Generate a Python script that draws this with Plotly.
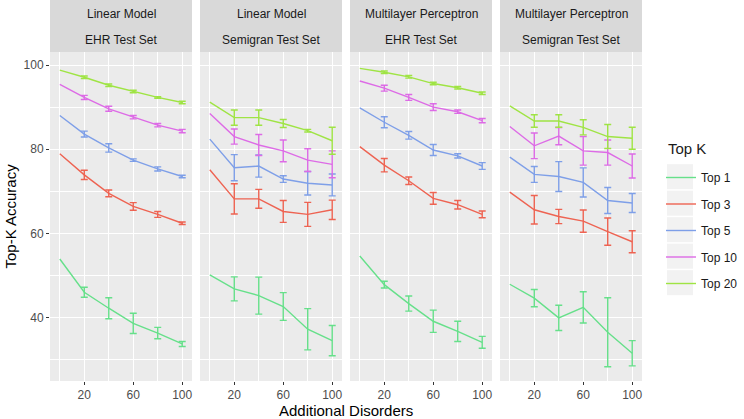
import plotly.graph_objects as go

# ---------------- data ----------------
additional_disorders = [0, 20, 40, 60, 80, 100]
err_disorders = [20, 40, 60, 80, 100]
top_k_labels = ["Top 1", "Top 3", "Top 5", "Top 10", "Top 20"]
model_labels = ["Linear Model", "Linear Model", "Multilayer Perceptron", "Multilayer Perceptron"]
testset_labels = ["EHR Test Set", "Semigran Test Set", "EHR Test Set", "Semigran Test Set"]
x_tick_vals = [20, 60, 100]
y_tick_vals = [40, 60, 80, 100]

# Linear Model, EHR Test Set
lin_ehr_top1 = [53.9, 46.0, 42.2, 38.6, 36.3, 33.7]
lin_ehr_top3 = [78.9, 73.9, 69.5, 66.4, 64.5, 62.4]
lin_ehr_top5 = [88.0, 83.6, 80.3, 77.4, 75.3, 73.5]
lin_ehr_top10 = [95.4, 92.3, 89.6, 87.6, 85.7, 84.3]
lin_ehr_top20 = [98.8, 97.1, 95.2, 93.7, 92.3, 91.1]
lin_ehr_top1_err = [1.2, 2.5, 2.4, 1.35, 0.6]
lin_ehr_top3_err = [1.1, 0.8, 0.9, 0.7, 0.3]
lin_ehr_top5_err = [0.7, 1.0, 0.3, 0.5, 0.3]
lin_ehr_top10_err = [0.5, 0.6, 0.4, 0.4, 0.4]
lin_ehr_top20_err = [0.3, 0.3, 0.3, 0.2, 0.3]

# Linear Model, Semigran Test Set
lin_sem_top1 = [50.1, 46.8, 45.2, 42.6, 37.2, 34.5]
lin_sem_top3 = [75.1, 68.2, 68.2, 65.2, 64.5, 65.6]
lin_sem_top5 = [82.4, 75.6, 76.0, 72.9, 71.9, 71.5]
lin_sem_top10 = [88.5, 83.0, 81.0, 79.6, 77.4, 76.4]
lin_sem_top20 = [91.2, 87.5, 87.5, 86.1, 84.4, 82.0]
lin_sem_top1_err = [2.85, 4.4, 3.3, 4.9, 3.6]
lin_sem_top3_err = [3.6, 2.25, 2.6, 2.85, 2.3]
lin_sem_top5_err = [3.1, 2.65, 0.8, 2.8, 2.6]
lin_sem_top10_err = [1.8, 2.5, 2.6, 2.7, 3.2]
lin_sem_top20_err = [1.8, 1.8, 0.95, 0.3, 3.2]

# Multilayer Perceptron, EHR Test Set
mlp_ehr_top1 = [54.6, 47.8, 43.3, 39.1, 36.7, 34.1]
mlp_ehr_top3 = [80.6, 76.2, 72.5, 68.3, 66.8, 64.5]
mlp_ehr_top5 = [89.8, 86.4, 83.3, 79.8, 78.4, 76.0]
mlp_ehr_top10 = [96.2, 94.5, 92.3, 90.0, 88.9, 86.8]
mlp_ehr_top20 = [99.2, 98.3, 97.2, 95.6, 94.6, 93.3]
mlp_ehr_top1_err = [0.8, 1.8, 2.65, 2.4, 1.4]
mlp_ehr_top3_err = [1.6, 0.9, 1.4, 1.0, 0.8]
mlp_ehr_top5_err = [1.3, 0.9, 1.3, 0.5, 0.8]
mlp_ehr_top10_err = [0.7, 0.7, 0.8, 0.4, 0.5]
mlp_ehr_top20_err = [0.3, 0.3, 0.3, 0.3, 0.3]

# Multilayer Perceptron, Semigran Test Set
mlp_sem_top1 = [47.9, 44.6, 39.9, 42.4, 36.5, 31.5]
mlp_sem_top3 = [69.8, 65.6, 64.0, 62.9, 60.4, 58.0]
mlp_sem_top5 = [78.1, 74.0, 73.5, 72.1, 67.8, 67.2]
mlp_sem_top10 = [85.4, 80.8, 83.1, 79.6, 79.2, 76.0]
mlp_sem_top20 = [90.3, 86.7, 86.7, 85.2, 83.0, 82.6]
mlp_sem_top1_err = [2.05, 3.0, 3.7, 8.2, 3.0]
mlp_sem_top3_err = [3.4, 1.7, 2.65, 3.25, 2.6]
mlp_sem_top5_err = [1.9, 3.55, 3.45, 3.1, 2.25]
mlp_sem_top10_err = [3.05, 2.05, 3.4, 3.0, 2.85]
mlp_sem_top20_err = [1.5, 1.5, 1.8, 2.85, 2.6]

panel_values = [
    [lin_ehr_top1, lin_ehr_top3, lin_ehr_top5, lin_ehr_top10, lin_ehr_top20],
    [lin_sem_top1, lin_sem_top3, lin_sem_top5, lin_sem_top10, lin_sem_top20],
    [mlp_ehr_top1, mlp_ehr_top3, mlp_ehr_top5, mlp_ehr_top10, mlp_ehr_top20],
    [mlp_sem_top1, mlp_sem_top3, mlp_sem_top5, mlp_sem_top10, mlp_sem_top20],
]
panel_errors = [
    [lin_ehr_top1_err, lin_ehr_top3_err, lin_ehr_top5_err, lin_ehr_top10_err, lin_ehr_top20_err],
    [lin_sem_top1_err, lin_sem_top3_err, lin_sem_top5_err, lin_sem_top10_err, lin_sem_top20_err],
    [mlp_ehr_top1_err, mlp_ehr_top3_err, mlp_ehr_top5_err, mlp_ehr_top10_err, mlp_ehr_top20_err],
    [mlp_sem_top1_err, mlp_sem_top3_err, mlp_sem_top5_err, mlp_sem_top10_err, mlp_sem_top20_err],
]

# ---------------- style ----------------
colors = ["#66E08A", "#EE6352", "#7E9FE8", "#DD6BE6", "#9FE444"]
FONT = "Liberation Sans, Arial, sans-serif"
W, H = 744, 419
ML, MR, MT, MB = 50, 102, 0, 38
PW = W - ML - MR          # 592
PH = H - MT - MB          # 381
STRIP_H = 52
panel_w = 142
panel_gap = (PW - 4 * panel_w) / 3


def px_x(px):
    return (px - ML) / PW


def px_y(py):
    return (PH - (py - MT)) / PH


fig = go.Figure()

for p in range(4):
    xa = "x" if p == 0 else f"x{p + 1}"
    ya = "y" if p == 0 else f"y{p + 1}"
    for k in range(5):
        fig.add_trace(go.Scatter(
            x=additional_disorders, y=panel_values[p][k], mode="lines",
            line=dict(color=colors[k], width=1.4),
            name=top_k_labels[k], legendgroup=top_k_labels[k],
            showlegend=(p == 0), xaxis=xa, yaxis=ya, hoverinfo="skip"))
        fig.add_trace(go.Scatter(
            x=err_disorders, y=panel_values[p][k][1:], mode="markers",
            marker=dict(color=colors[k], size=1, opacity=0),
            error_y=dict(type="data", array=panel_errors[p][k], color=colors[k],
                         thickness=1.4, width=3.5),
            showlegend=False, legendgroup=top_k_labels[k],
            xaxis=xa, yaxis=ya, hoverinfo="skip"))

layout = dict(
    width=W, height=H,
    margin=dict(l=ML, r=MR, t=MT, b=MB),
    paper_bgcolor="white", plot_bgcolor="#EBEBEB",
    font=dict(family=FONT, size=12, color="#4D4D4D"),
    legend=dict(
        x=px_x(661), y=px_y(163), xanchor="left", yanchor="top",
        bgcolor="rgba(0,0,0,0)", tracegroupgap=7.5,
        font=dict(family=FONT, size=12, color="#1A1A1A"),
    ),
    shapes=[], annotations=[],
)

ydom_top = (PH - STRIP_H) / PH
for p in range(4):
    x0 = (p * (panel_w + panel_gap)) / PW
    x1 = (p * (panel_w + panel_gap) + panel_w) / PW
    sfx = "" if p == 0 else str(p + 1)
    layout["xaxis" + sfx] = dict(
        domain=[x0, x1], range=[-8, 108], anchor="y" + sfx,
        tickvals=x_tick_vals, ticks="outside", ticklen=3, tickcolor="#333333",
        showgrid=True, gridcolor="white", gridwidth=1.1, zeroline=False, showline=False,
        tickfont=dict(family=FONT, size=12, color="#4D4D4D"),
        minor=dict(tickvals=[0, 40, 80], showgrid=True, gridcolor="white", gridwidth=0.5, ticks=""),
    )
    layout["yaxis" + sfx] = dict(
        domain=[0, ydom_top], range=[24.9, 103.1], anchor="x" + sfx,
        tickvals=y_tick_vals, ticks="outside" if p == 0 else "", ticklen=3, tickcolor="#333333",
        showticklabels=(p == 0),
        showgrid=True, gridcolor="white", gridwidth=1.1, zeroline=False, showline=False,
        tickfont=dict(family=FONT, size=12, color="#4D4D4D"),
        minor=dict(tickvals=[30, 50, 70, 90], showgrid=True, gridcolor="white", gridwidth=0.5, ticks=""),
    )
    layout["shapes"].append(dict(
        type="rect", xref="paper", yref="paper", x0=x0, x1=x1, y0=ydom_top, y1=1.0,
        fillcolor="#D9D9D9", line=dict(width=0), layer="below"))
    xc = (x0 + x1) / 2
    layout["annotations"].append(dict(
        text=model_labels[p], xref="paper", yref="paper", x=xc, y=px_y(14),
        showarrow=False, xanchor="center", yanchor="middle",
        font=dict(family=FONT, size=12, color="#1A1A1A")))
    layout["annotations"].append(dict(
        text=testset_labels[p], xref="paper", yref="paper", x=xc, y=px_y(40),
        showarrow=False, xanchor="center", yanchor="middle",
        font=dict(family=FONT, size=12, color="#1A1A1A")))

# legend key backgrounds
for k in range(5):
    cy = 176.7 + k * 26.5
    layout["shapes"].append(dict(
        type="rect", xref="paper", yref="paper", x0=px_x(667), x1=px_x(693),
        y0=px_y(cy + 12.5), y1=px_y(cy - 12.5),
        fillcolor="#F2F2F2", line=dict(width=0), layer="below"))

# legend title
layout["annotations"].append(dict(
    text="Top K", xref="paper", yref="paper", x=px_x(666), y=px_y(148),
    showarrow=False, xanchor="left", yanchor="middle",
    font=dict(family=FONT, size=15, color="#1A1A1A")))

# axis titles
layout["annotations"].append(dict(
    text="Top-K Accuracy", xref="paper", yref="paper", x=px_x(10), y=px_y(216.5),
    textangle=-90, showarrow=False, xanchor="center", yanchor="middle",
    font=dict(family=FONT, size=15, color="black")))
layout["annotations"].append(dict(
    text="Additional Disorders", xref="paper", yref="paper", x=px_x(346), y=px_y(410),
    showarrow=False, xanchor="center", yanchor="middle",
    font=dict(family=FONT, size=15, color="black")))

fig.update_layout(**layout)
fig.write_html("out.html", config={"displayModeBar": False},
               post_script="document.body.style.margin='0px';")
